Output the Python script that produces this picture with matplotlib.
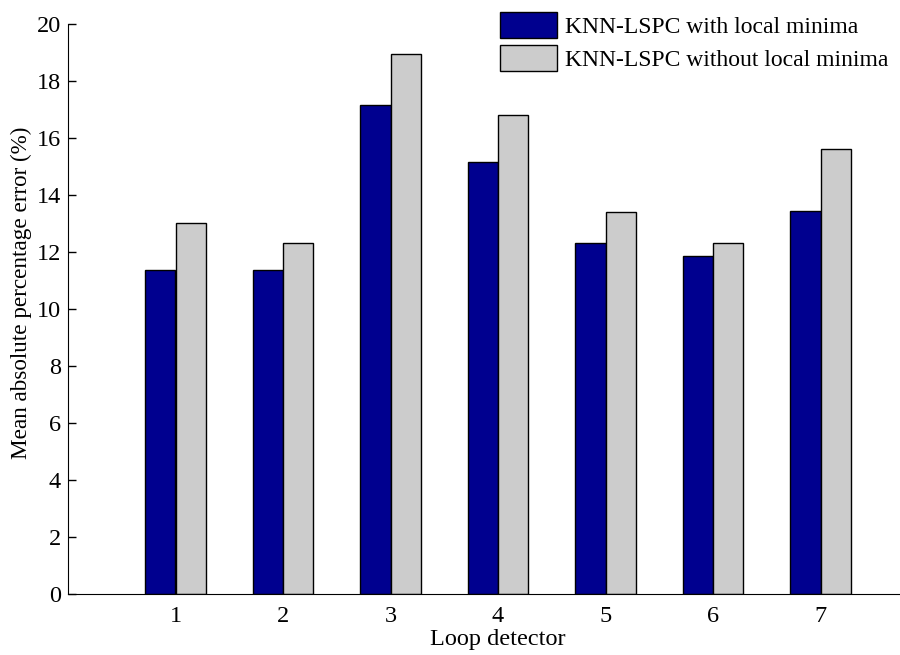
import matplotlib
matplotlib.use("Agg")
import matplotlib.pyplot as plt
import numpy as np

# loop detectors and error values (%)
detectors = [1, 2, 3, 4, 5, 6, 7]
with_minima = [11.36, 11.36, 17.16, 15.15, 12.32, 11.85, 13.43]
without_minima = [13.02, 12.30, 18.93, 16.80, 13.42, 12.30, 15.60]
labels = ["KNN-LSPC with local minima", "KNN-LSPC without local minima"]

plt.rcParams["font.family"] = ["Liberation Serif", "DejaVu Serif"]
plt.rcParams["font.size"] = 17

fig = plt.figure(figsize=(9, 6.55), dpi=100)
# axes run past the right edge, like the cropped original
ax = fig.add_axes([68 / 900, 61 / 655, 860 / 900, 570 / 655])

x = np.array(detectors)
w = 0.28
ax.bar(x - w / 2, with_minima, w, color="#00008F", edgecolor="black", linewidth=1, label=labels[0])
ax.bar(x + w / 2, without_minima, w, color="#CCCCCC", edgecolor="black", linewidth=1, label=labels[1])

ax.set_xlim(0, 8)
ax.set_ylim(0, 20)
ax.set_xticks(detectors)
ax.set_yticks(range(0, 21, 2))
ax.set_axisbelow(True)
ax.tick_params(direction="in", length=6, width=1, labelsize=17.5)
ax.tick_params(axis="x", pad=9)
ax.tick_params(axis="y", pad=5)
ax.spines["top"].set_visible(False)
ax.spines["right"].set_visible(False)

ax.set_xlabel("Loop detector", fontsize=17.5, labelpad=1)
ax.set_ylabel("Mean absolute percentage error (%)", fontsize=16.7)
ax.yaxis.set_label_coords(-0.042, 0.528)

fig.legend(loc="upper left", bbox_to_anchor=(500 / 900, 1 - 12 / 655),
           frameon=False, borderpad=0, borderaxespad=0,
           handlelength=2.4, handleheight=1.3, handletextpad=0.35,
           labelspacing=0.3)

fig.savefig("out.png", dpi=100)
